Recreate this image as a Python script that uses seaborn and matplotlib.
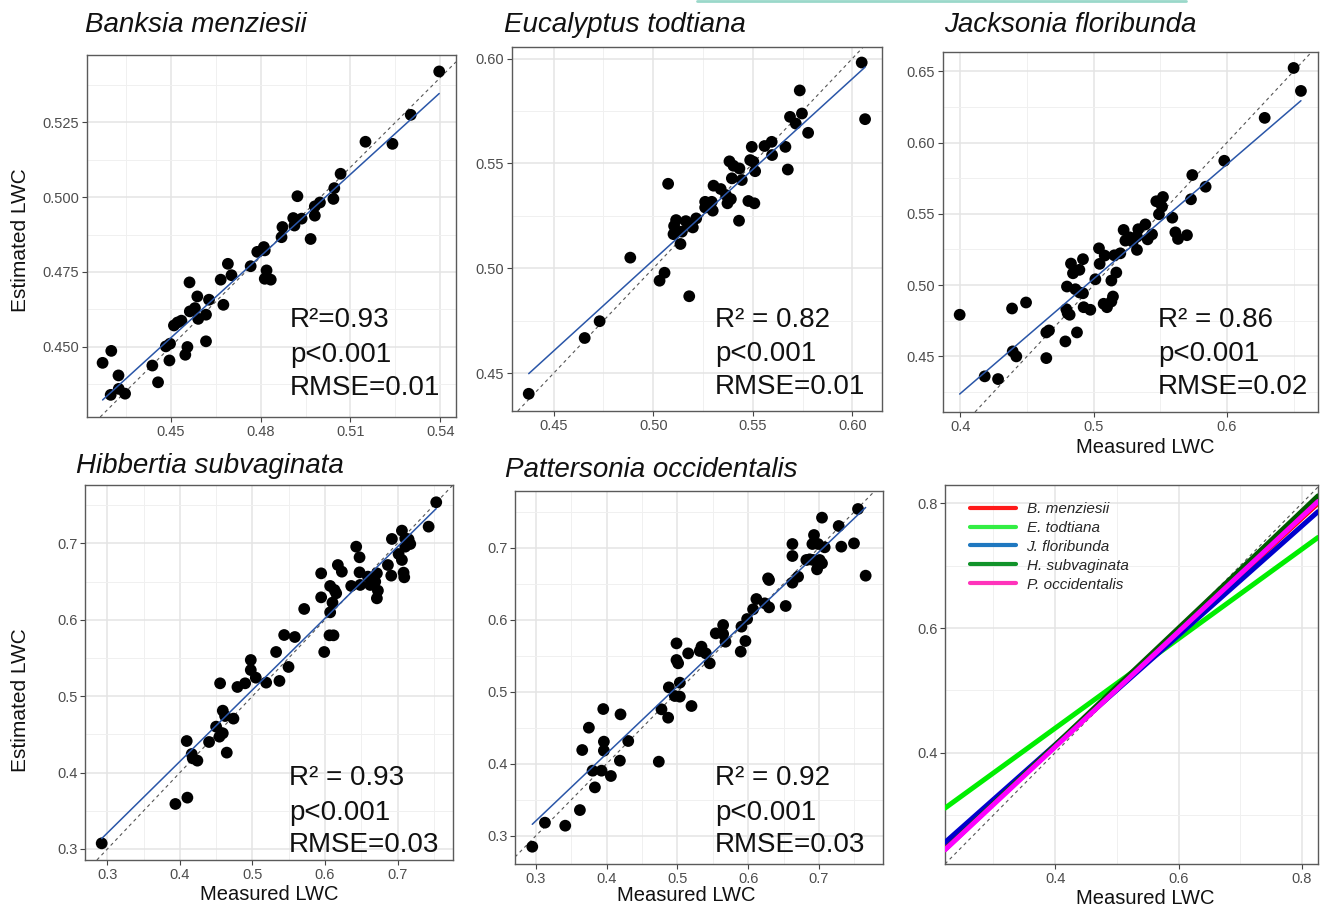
import numpy as np
import matplotlib
matplotlib.use("Agg")
import matplotlib.pyplot as plt
import seaborn as sns
from matplotlib.lines import Line2D
from matplotlib.ticker import FixedLocator

# ---------------- data ----------------
species = ["Banksia menziesii", "Eucalyptus todtiana", "Jacksonia floribunda",
           "Hibbertia subvaginata", "Pattersonia occidentalis"]
short_names = ["B. menziesii", "E. todtiana", "J. floribunda",
               "H. subvaginata", "P. occidentalis"]

bm_measured = [0.5396, 0.5301, 0.5240, 0.5150, 0.5067, 0.5046, 0.5043, 0.4998, 0.4981, 0.4981,
               0.4967, 0.4923, 0.4909, 0.4937, 0.4913, 0.4873, 0.4870, 0.4811, 0.4814, 0.4789,
               0.4767, 0.4820, 0.4814, 0.4834, 0.4691, 0.4703, 0.4667, 0.4676, 0.4628, 0.4563,
               0.4589, 0.4581, 0.4564, 0.4592, 0.4618, 0.4618, 0.4536, 0.4523, 0.4511, 0.4498,
               0.4484, 0.4556, 0.4549, 0.4496, 0.4439, 0.4458, 0.4273, 0.4302, 0.4326, 0.4327,
               0.4348, 0.4300]
bm_estimated = [0.5420, 0.5275, 0.5178, 0.5185, 0.5078, 0.5030, 0.4994, 0.4982, 0.4969, 0.4938,
                0.4860, 0.5003, 0.4930, 0.4928, 0.4905, 0.4900, 0.4866, 0.4833, 0.4822, 0.4817,
                0.4769, 0.4755, 0.4727, 0.4724, 0.4777, 0.4739, 0.4724, 0.4640, 0.4657, 0.4715,
                0.4668, 0.4629, 0.4618, 0.4593, 0.4607, 0.4518, 0.4587, 0.4581, 0.4571, 0.4510,
                0.4501, 0.4499, 0.4473, 0.4454, 0.4437, 0.4381, 0.4446, 0.4486, 0.4404, 0.4359,
                0.4343, 0.4339]

et_measured = [0.6047, 0.6064, 0.5736, 0.5747, 0.5716, 0.5687, 0.5778, 0.5595, 0.5559, 0.5597,
               0.5664, 0.5676, 0.5495, 0.5487, 0.5503, 0.5512, 0.5383, 0.5403, 0.5433, 0.5395,
               0.5445, 0.5478, 0.5508, 0.5431, 0.5303, 0.5339, 0.5366, 0.5390, 0.5373, 0.5261,
               0.5294, 0.5261, 0.5299, 0.5075, 0.5216, 0.5164, 0.5115, 0.5105, 0.5177, 0.5199,
               0.5144, 0.5102, 0.5137, 0.4885, 0.5057, 0.5032, 0.5181, 0.4731, 0.4656, 0.4375]
et_estimated = [0.5981, 0.5711, 0.5848, 0.5738, 0.5690, 0.5722, 0.5646, 0.5603, 0.5583, 0.5540,
                0.5579, 0.5471, 0.5579, 0.5516, 0.5508, 0.5463, 0.5510, 0.5489, 0.5476, 0.5429,
                0.5421, 0.5321, 0.5310, 0.5227, 0.5394, 0.5378, 0.5349, 0.5330, 0.5310, 0.5317,
                0.5317, 0.5290, 0.5275, 0.5403, 0.5238, 0.5225, 0.5230, 0.5202, 0.5214, 0.5195,
                0.5175, 0.5163, 0.5116, 0.5051, 0.4979, 0.4941, 0.4867, 0.4748, 0.4668, 0.4402]

jf_measured = [0.6500, 0.6555, 0.6283, 0.5980, 0.5740, 0.5840, 0.5730, 0.5520, 0.5470, 0.5513,
               0.5490, 0.5590, 0.5613, 0.5633, 0.5700, 0.5388, 0.5335, 0.5438, 0.5405, 0.5325,
               0.5225, 0.5238, 0.5270, 0.5293, 0.5325, 0.5200, 0.5155, 0.5083, 0.5040, 0.5045,
               0.5170, 0.5133, 0.5013, 0.4920, 0.4830, 0.4893, 0.4845, 0.4800, 0.4863, 0.4895,
               0.4920, 0.4925, 0.4975, 0.5075, 0.5100, 0.5145, 0.5133, 0.4795, 0.4805, 0.4820,
               0.4875, 0.4788, 0.4645, 0.4665, 0.4645, 0.4493, 0.4388, 0.3995, 0.4393, 0.4420,
               0.4183, 0.4283]
jf_estimated = [0.6523, 0.6362, 0.6173, 0.5872, 0.5772, 0.5690, 0.5602, 0.5618, 0.5588, 0.5550,
                0.5497, 0.5473, 0.5370, 0.5324, 0.5350, 0.5426, 0.5392, 0.5356, 0.5321, 0.5340,
                0.5387, 0.5312, 0.5335, 0.5305, 0.5247, 0.5223, 0.5209, 0.5207, 0.5258, 0.5149,
                0.5088, 0.5032, 0.5041, 0.5182, 0.5151, 0.5107, 0.5083, 0.4990, 0.4971, 0.4948,
                0.4943, 0.4845, 0.4827, 0.4869, 0.4845, 0.4920, 0.4885, 0.4831, 0.4803, 0.4792,
                0.4668, 0.4605, 0.4668, 0.4682, 0.4488, 0.4878, 0.4836, 0.4792, 0.4535, 0.4500,
                0.4360, 0.4341]

hs_measured = [0.7533, 0.7428, 0.7060, 0.6922, 0.7106, 0.7152, 0.7175, 0.7106, 0.7014, 0.7060,
               0.6430, 0.6476, 0.6177, 0.6232, 0.6476, 0.6867, 0.6913, 0.7083, 0.7092, 0.6591,
               0.6715, 0.6692, 0.6623, 0.6729, 0.6715, 0.6361, 0.6485, 0.5947, 0.5947, 0.6071,
               0.6131, 0.6154, 0.6103, 0.6071, 0.5713, 0.6062, 0.6117, 0.5989, 0.5437, 0.5584,
               0.5326, 0.5497, 0.5372, 0.5189, 0.4977, 0.4977, 0.5046, 0.4899, 0.4793, 0.4554,
               0.4591, 0.4623, 0.4738, 0.4499, 0.4591, 0.4545, 0.4646, 0.4402, 0.4094, 0.4163,
               0.4177, 0.4241, 0.4103, 0.3938, 0.2922]
hs_estimated = [0.7537, 0.7218, 0.7166, 0.7057, 0.7065, 0.7052, 0.6991, 0.6956, 0.6860, 0.6782,
                0.6956, 0.6817, 0.6716, 0.6629, 0.6620, 0.6716, 0.6577, 0.6616, 0.6555, 0.6564,
                0.6607, 0.6498, 0.6455, 0.6381, 0.6280, 0.6442, 0.6455, 0.6607, 0.6293, 0.6442,
                0.6389, 0.6346, 0.6224, 0.6097, 0.6141, 0.5796, 0.5796, 0.5578, 0.5800, 0.5774,
                0.5578, 0.5382, 0.5199, 0.5177, 0.5473, 0.5342, 0.5242, 0.5168, 0.5120, 0.5168,
                0.4810, 0.4740, 0.4706, 0.4601, 0.4514, 0.4470, 0.4261, 0.4400, 0.4413, 0.4243,
                0.4186, 0.4156, 0.3672, 0.3589, 0.3074]

po_measured = [0.7551, 0.7042, 0.7278, 0.6929, 0.7494, 0.7315, 0.6906, 0.6986, 0.7080, 0.6624,
               0.6624, 0.6821, 0.6868, 0.6915, 0.7009, 0.7042, 0.6972, 0.7659, 0.6704, 0.6624,
               0.6280, 0.6294, 0.6115, 0.6233, 0.6068, 0.6294, 0.6529, 0.5984, 0.5904, 0.5645,
               0.5541, 0.5645, 0.5678, 0.5960, 0.5894, 0.5339, 0.5315, 0.5400, 0.5151, 0.5456,
               0.4986, 0.4986, 0.5009, 0.5033, 0.4878, 0.4962, 0.5033, 0.5198, 0.4774, 0.4868,
               0.4736, 0.3951, 0.4195, 0.3748, 0.3960, 0.4304, 0.3654, 0.3960, 0.4186, 0.3800,
               0.3927, 0.4059, 0.3833, 0.3621, 0.3127, 0.3414, 0.2948]
po_estimated = [0.7537, 0.7417, 0.7301, 0.7176, 0.7060, 0.7014, 0.7051, 0.7051, 0.7005, 0.7051,
                0.6884, 0.6829, 0.6838, 0.6829, 0.6829, 0.6782, 0.6699, 0.6611, 0.6597, 0.6514,
                0.6574, 0.6551, 0.6287, 0.6227, 0.6144, 0.6171, 0.6190, 0.6009, 0.5903, 0.5926,
                0.5810, 0.5801, 0.5694, 0.5704, 0.5556, 0.5625, 0.5565, 0.5532, 0.5532, 0.5394,
                0.5671, 0.5440, 0.5394, 0.5125, 0.5060, 0.4940, 0.4931, 0.4801, 0.4755, 0.4639,
                0.4028, 0.4759, 0.4685, 0.4500, 0.4306, 0.4315, 0.4190, 0.4181, 0.4042, 0.3903,
                0.3903, 0.3829, 0.3671, 0.3356, 0.3181, 0.3139, 0.2847]

stat_r2 = ["R\u00b2=0.93", "R\u00b2 = 0.82", "R\u00b2 = 0.86", "R\u00b2 = 0.93", "R\u00b2 = 0.92"]
stat_p = ["p<0.001", "p<0.001", "p<0.001", "p<0.001", "p<0.001"]
stat_rmse = ["RMSE=0.01", "RMSE=0.01", "RMSE=0.02", "RMSE=0.03", "RMSE=0.03"]

# fitted lines shown in the summary panel (intercept, slope)
fit_intercepts = [0.0443, 0.1521, 0.0617, 0.0371, 0.0396]
fit_slopes = [0.915, 0.718, 0.8776, 0.938, 0.924]

x_ticks = [[0.45, 0.48, 0.51, 0.54], [0.45, 0.50, 0.55, 0.60], [0.4, 0.5, 0.6],
           [0.3, 0.4, 0.5, 0.6, 0.7], [0.3, 0.4, 0.5, 0.6, 0.7], [0.4, 0.6, 0.8]]
y_ticks = [[0.450, 0.475, 0.500, 0.525], [0.45, 0.50, 0.55, 0.60], [0.45, 0.50, 0.55, 0.60, 0.65],
           [0.3, 0.4, 0.5, 0.6, 0.7], [0.3, 0.4, 0.5, 0.6, 0.7], [0.4, 0.6, 0.8]]
x_fmt = ["{:.2f}", "{:.2f}", "{:.1f}", "{:.1f}", "{:.1f}", "{:.1f}"]
y_fmt = ["{:.3f}", "{:.2f}", "{:.2f}", "{:.1f}", "{:.1f}", "{:.1f}"]

# ---------------- style ----------------
line_colors = ["#FF0000", "#00EE00", "#0000CD", "#005A00", "#FF00FF"]
legend_colors = ["#FF1A1A", "#33EE44", "#1F78C0", "#11932A", "#FF33BB"]
pt_color = "black"
fit_color = "#2a56a8"

sns.set_style("white")
plt.rcParams["font.family"] = ["Liberation Sans", "DejaVu Sans"]

W, H = 1320, 907
fig = plt.figure(figsize=(W / 100, H / 100), dpi=100)

boxes = [(87, 55, 456, 417), (512, 47, 882, 411), (943, 52, 1318, 412),
         (85, 485, 453, 860), (515, 491, 883, 864), (945, 485, 1318, 864)]
xlims = [(0.4221, 0.5452), (0.4291, 0.6149), (0.387, 0.6683),
         (0.2692, 0.7764), (0.2704, 0.7904), (0.2216, 0.826)]
ylims = [(0.4265, 0.5475), (0.432, 0.6055), (0.411, 0.6635),
         (0.2856, 0.7763), (0.2607, 0.7787), (0.2216, 0.8293)]


def add_ax(box):
    l, t, r, b = box
    return fig.add_axes([l / W, 1 - b / H, (r - l) / W, (b - t) / H])


def style_ax(ax, i):
    ax.set_xlim(*xlims[i])
    ax.set_ylim(*ylims[i])
    xt, yt = x_ticks[i], y_ticks[i]
    ax.set_xticks(xt)
    ax.set_xticklabels([x_fmt[i].format(v) for v in xt])
    ax.set_yticks(yt)
    ax.set_yticklabels([y_fmt[i].format(v) for v in yt])
    sx = xt[1] - xt[0]
    sy = yt[1] - yt[0]
    ax.xaxis.set_minor_locator(FixedLocator(np.arange(xt[0] - sx * 1.5, xlims[i][1], sx) + 0.0))
    ax.yaxis.set_minor_locator(FixedLocator(np.arange(yt[0] - sy * 1.5, ylims[i][1], sy) + 0.0))
    ax.grid(which="major", color="#E4E4E4", lw=1.1)
    ax.grid(which="minor", color="#F0F0F0", lw=0.7)
    ax.set_axisbelow(True)
    ax.tick_params(which="minor", length=0)
    ax.tick_params(which="major", length=3.5, width=0.8, color="#444444",
                   labelsize=10.5, labelcolor="#4D4D4D", pad=2, bottom=True, left=True)
    for s in ax.spines.values():
        s.set_color("#5A5A5A")
        s.set_linewidth(1.0)
    ax.set_xlabel("")
    ax.set_ylabel("")


meas = [bm_measured, et_measured, jf_measured, hs_measured, po_measured]
est = [bm_estimated, et_estimated, jf_estimated, hs_estimated, po_estimated]

for i in range(5):
    ax = add_ax(boxes[i])
    x = np.array(meas[i])
    y = np.array(est[i])
    ax.axline((0, 0), (1, 1), color="#555555", ls=(0, (3, 3)), lw=0.8, zorder=2)
    sns.regplot(x=x, y=y, ax=ax, scatter=False, ci=None, truncate=True,
                color=fit_color, line_kws=dict(lw=1.1, zorder=4))
    sns.scatterplot(x=x, y=y, ax=ax, color=pt_color, s=72, edgecolor="none",
                    zorder=3, legend=False)
    style_ax(ax, i)

# summary panel
ax6 = add_ax(boxes[5])
xs = np.array(xlims[5])
for a, b, c in zip(fit_intercepts, fit_slopes, line_colors):
    sns.lineplot(x=xs, y=a + b * xs, ax=ax6, color=c, lw=3.6, zorder=3)
ax6.axline((0, 0), (1, 1), color="#555555", ls=(0, (3, 3)), lw=0.8, zorder=2)
style_ax(ax6, 5)
handles = [Line2D([0], [0], color=c, lw=3) for c in legend_colors]
ax6.legend(handles, short_names, prop=dict(style="italic", size=11), frameon=False,
           loc="upper left", bbox_to_anchor=((970 - 945) / 373, 1 - (502 - 485) / 379),
           handlelength=3.0, handletextpad=0.7, labelspacing=0.32, borderpad=0,
           borderaxespad=0)

# titles
title_pos = [(85, 32), (504, 32), (944, 32), (76, 473), (505, 477)]
for name, (tx, ty) in zip(species, title_pos):
    fig.text(tx / W, 1 - ty / H, name, fontsize=20, style="italic", color="#111111",
             ha="left", va="baseline")

# stats
stat_pos = [(290, [327, 362, 395]), (715, [327, 361, 394]), (1158, [327, 361, 394]),
            (289, [785, 820, 852]), (715, [785, 820, 852])]
for i, (sx, ys) in enumerate(stat_pos):
    for txt, yy in zip([stat_r2[i], stat_p[i], stat_rmse[i]], ys):
        fig.text(sx / W, 1 - yy / H, txt, fontsize=20, color="#111111",
                 ha="left", va="baseline")

# axis labels
for yc in [240, 700]:
    fig.text(21 / W, 1 - yc / H, "Estimated LWC", fontsize=15, rotation=90,
             ha="center", va="center", color="#111111")
for xc, yb in [(1145, 453), (269, 900), (686, 901), (1145, 904)]:
    fig.text(xc / W, 1 - yb / H, "Measured LWC", fontsize=14.5, ha="center",
             va="baseline", color="#111111")

# teal strip at the top
fig.add_artist(Line2D([697 / W, 1186 / W], [1 - 1 / H, 1 - 1 / H], color="#9ad8ca", lw=2))

fig.savefig("out.png", dpi=100)
